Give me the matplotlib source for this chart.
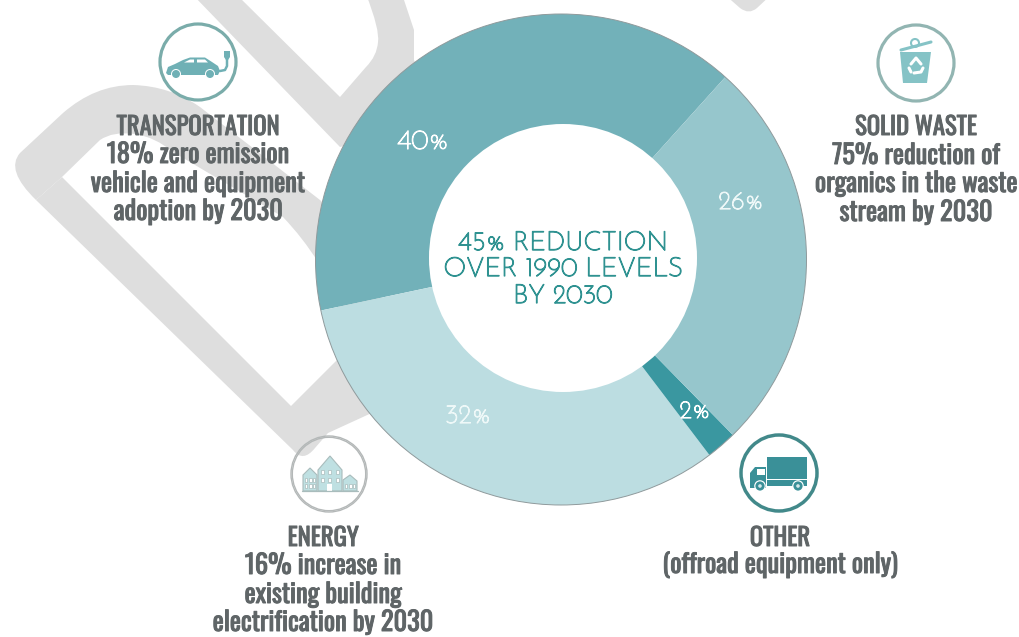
import matplotlib
matplotlib.use("Agg")
import matplotlib.pyplot as plt
from matplotlib.patches import Circle, Polygon, PathPatch, Rectangle
from matplotlib.path import Path
from matplotlib import font_manager as fm
import matplotlib.patheffects as pe

# ---- data ----
sector_names = ["Transportation", "Energy", "Other", "Solid waste"]
sector_shares = [40, 32, 2, 26]
sector_colors = ["#72b1b9", "#bcdde1", "#3a97a0", "#96c6cc"]
share_labels = ["40%", "32%", "2%", "26%"]
center_lines = ["45% REDUCTION", "OVER 1990 LEVELS", "BY 2030"]
transport_lines = ["TRANSPORTATION", "18% zero emission", "vehicle and equipment", "adoption by 2030"]
waste_lines = ["SOLID WASTE", "75% reduction of", "organics in the waste", "stream by 2030"]
energy_lines = ["ENERGY", "16% increase in", "existing building", "electrification by 2030"]
other_lines = ["OTHER", "(offroad equipment only)"]

W, H = 1020, 637
fig = plt.figure(figsize=(W / 100, H / 100), dpi=100, facecolor="white")
ax = fig.add_axes([0, 0, 1, 1])

def P(pts):
    return [(x, H - y) for x, y in pts]

names = {f.name for f in fm.fontManager.ttflist}
def pick(*opts):
    for o in opts:
        if o in names:
            return o
    return "DejaVu Sans"
cond = pick("Oswald", "Fjalla One", "Archivo Narrow", "Liberation Sans Narrow", "Liberation Sans")
geo = pick("Josefin Sans", "Lato", "DejaVu Sans")

# ---- watermark ----
GRAY = "#dedede"
def smooth(seq):
    verts, codes = [], []
    for kind, pts in seq:
        pts = P(pts)
        if kind == "M":
            verts += pts; codes += [Path.MOVETO]
        elif kind == "L":
            verts += pts; codes += [Path.LINETO] * len(pts)
        else:
            verts += pts; codes += [Path.CURVE3, Path.CURVE3]
    verts.append(verts[0]); codes.append(Path.CLOSEPOLY)
    ax.add_patch(PathPatch(Path(verts, codes), fc=GRAY, ec="none", zorder=1))

# upper-left arm of the letter
smooth([
    ("M", [(36, 200)]),
    ("Q", [(5, 170), (20, 153)]),
    ("L", [(63, 113)]),
    ("Q", [(95, 85), (133, 85)]),
    ("Q", [(170, 86), (200, 107)]),
    ("L", [(320, 200), (400, 280), (350, 330)]),
    ("L", [(318, 262)]),
    ("Q", [(303, 238), (283, 217)]),
    ("L", [(173, 152)]),
    ("Q", [(155, 137), (135, 134)]),
    ("Q", [(113, 131), (100, 140)]),
    ("L", [(62, 177)]),
])
# lower-left arm
smooth([
    ("M", [(36, 200)]),
    ("L", [(62, 177), (291, 406), (345, 352), (400, 400), (328, 433), (315, 448)]),
    ("Q", [(303, 463), (293, 450)]),
])
# second stroke at the top
smooth([
    ("M", [(192, -6)]),
    ("L", [(340, 147), (440, 120), (414, 60), (414, 30), (402, -6), (366, -6)]),
    ("Q", [(380, 30), (378, 42)]),
    ("Q", [(377, 56), (366, 67)]),
    ("L", [(340, 97), (236, -6)]),
])
smooth([
    ("M", [(724, -6)]),
    ("L", [(740, 8)]),
    ("Q", [(749, 15), (757, 8)]),
    ("L", [(772, -6)]),
])

# ---- donut, through the library's pie ----
wedges, _ = ax.pie(sector_shares, colors=sector_colors, startangle=48, counterclock=True,
                   radius=245.5, center=(561, H - 259.5),
                   wedgeprops=dict(linewidth=0), frame=True)
for w in wedges:
    w.set_zorder(3)
ax.add_patch(Circle((561, H - 259.5), 245.5, fc="none", ec="#8f9a9c", lw=0.7, zorder=4))
ax.add_patch(Circle((563, H - 258), 134, fc="white", ec="none", zorder=5))

ax.set_xlim(0, W)
ax.set_ylim(0, H)
ax.set_aspect("equal")
ax.axis("off")

# ---- share labels ----
label_pos = [(423, 149), (468, 423), (695, 418), (741, 209)]
label_col = ["white", "#eef8f8", "white", "#eef8f8"]
label_size = [20, 19, 18, 18.5]
for s, (x, y), c, fs in zip(share_labels, label_pos, label_col, label_size):
    ax.text(x, H - y, s, color=c, fontsize=fs, ha="center", va="baseline",
            family=geo, zorder=7, path_effects=[pe.withStroke(linewidth=0.8, foreground=c)])

# ---- centre title ----
CT = "#2f9291"
for s, y in zip(center_lines, [250, 276, 303]):
    ax.text(563, H - y, s, color=CT, fontsize=19, ha="center", va="baseline",
            family=geo, zorder=7, path_effects=[pe.withStroke(linewidth=0.9, foreground=CT)])

# ---- captions ----
TXT = "#5f6567"
for lines, x, ys in [
    (transport_lines, 198, [135, 163, 192, 220]),
    (waste_lines, 916, [135, 164, 192, 221]),
    (energy_lines, 323, [546, 574, 603, 631]),
    (other_lines, 780, [546, 573]),
]:
    for i, (s, y) in enumerate(zip(lines, ys)):
        ax.text(x, H - y, s, color=TXT, fontsize=17.8 if i == 0 else 19, ha="center", va="baseline",
                family=cond, zorder=7, path_effects=[pe.withStroke(linewidth=0.7, foreground=TXT)])

# ---- icons ----
def ring(cx, cy, color, lw=2.3):
    ax.add_patch(Circle((cx, H - cy), 38, fc="none", ec=color, lw=lw, zorder=6))

def poly(pts, fc, ec="none", lw=0, z=7):
    ax.add_patch(Polygon(P(pts), closed=True, fc=fc, ec=ec, lw=lw, zorder=z))

def disc(x, y, r, fc, ec="none", lw=0, z=8):
    ax.add_patch(Circle((x, H - y), r, fc=fc, ec=ec, lw=lw, zorder=z))

def stroke(pts, color, lw, z=8):
    xs, ys = zip(*P(pts))
    ax.plot(xs, ys, color=color, lw=lw, solid_capstyle="round", zorder=z)

def rect(x0, y0, x1, y1, fc, ec="none", lw=0, z=8):
    ax.add_patch(Rectangle((x0, H - y1), x1 - x0, y1 - y0, fc=fc, ec=ec, lw=lw, zorder=z))

# car
CAR = "#6fb0b5"
ring(198, 62, "#7aacaa")
poly([(166, 73), (168, 67), (175, 64), (183, 60), (190, 57.5), (205, 57.5), (212, 62),
      (218, 66), (220, 71), (218, 75), (168, 75)], CAR)
for x in (176, 210):
    disc(x, 74, 5, "white")
    disc(x, 74, 4, CAR)
poly([(184, 62.5), (190, 59.5), (194, 59.5), (194, 62.5)], "white", z=8)
poly([(197, 59.5), (205, 59.5), (208, 62.5), (197, 62.5)], "white", z=8)
stroke([(220, 71), (225, 70), (227, 66), (227, 59)], CAR, 1.8)
poly([(224, 51), (230, 51), (230, 57), (228, 60), (226, 60), (224, 57)], CAR, z=8)

# bin
BIN = "#85c3c6"
ring(916, 63, "#92b5b2")
poly([(900, 52), (931, 52), (927, 83), (903, 83)], BIN)
stroke([(901, 50), (931, 42)], BIN, 2.2)
disc(915, 43, 4, "none", ec=BIN, lw=1.5)
stroke([(911, 64), (916, 58), (921, 64)], "white", 2.2)
stroke([(923, 68), (921, 72), (914, 73)], "white", 2.2)
stroke([(909, 68), (911, 72)], "white", 2.2)

# houses
HS = "#bfe0e2"
HE = "#a9bcbc"
ring(329, 474, "#b4b8b8", lw=1.0)
ax.add_patch(Circle((329, H - 474), 36.7, fc="none", ec="#b4b8b8", lw=1.0, zorder=6))
poly([(303, 475), (310, 468), (317, 475), (317, 491), (303, 491)], HS, HE, 0.8)
poly([(343, 480), (350, 475), (357, 481), (357, 491), (343, 491)], HS, HE, 0.8)
poly([(318, 470), (330, 456), (342, 470), (342, 491), (318, 491)], HS, HE, 0.8, z=8)
for wx in (321, 328, 336):
    for wy in (470, 478):
        rect(wx, wy, wx + 3.5, wy + 3.5, "white", HE, 0.5, z=9)
for wx in (305, 309.5, 313):
    for wy in (478, 484):
        rect(wx, wy, wx + 2.3, wy + 3.5, "white", HE, 0.5, z=9)
for wx in (345, 349.5, 353):
    rect(wx, 484, wx + 2.3, 488, "white", HE, 0.5, z=9)
rect(327.5, 484, 332.5, 491, "white", z=9)
stroke([(302, 491), (358, 491)], HE, 0.9, z=9)

# truck
TR = "#3a9098"
ring(779, 473, "#42898a", lw=2.5)
rect(767, 457, 807, 479, TR, z=7)
rect(767, 480, 807, 486, TR, z=7)
poly([(750, 488), (750, 473), (755, 467), (766, 467), (766, 488)], TR)
rect(757, 469, 765, 475, "white", z=9)
for x in (760, 798):
    disc(x, 486, 5.8, "white")
    disc(x, 486, 4.6, TR, z=9)
    disc(x, 486, 1.8, "#d6e8ea", z=10)

fig.savefig("out.png", dpi=100)
